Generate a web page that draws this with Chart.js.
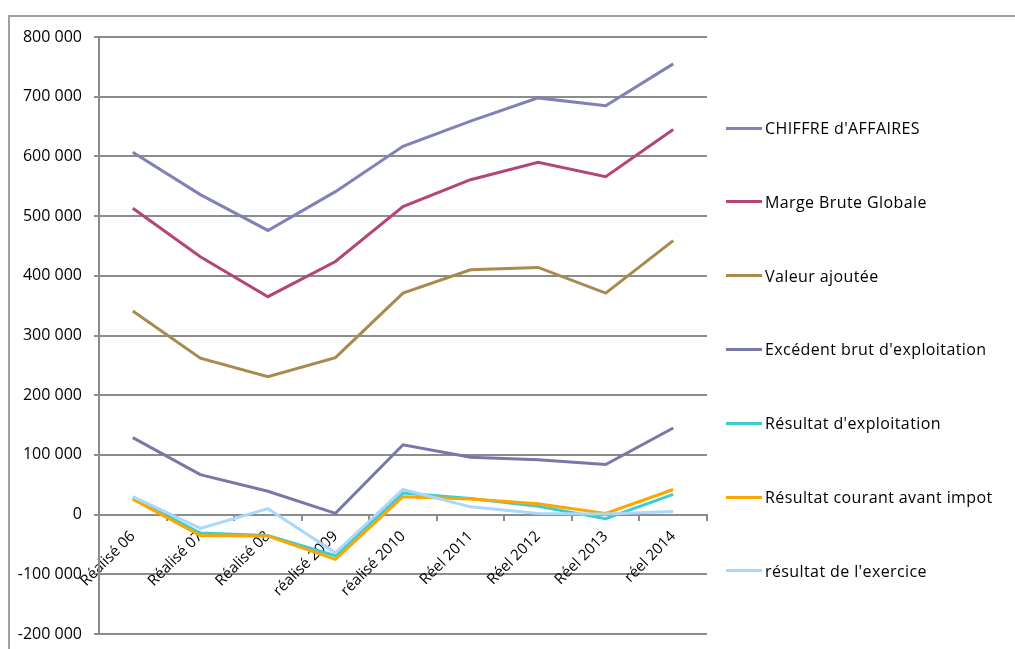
<!DOCTYPE html>
<html lang="fr">
<head>
<meta charset="utf-8">
<title>Évolution des soldes intermédiaires de gestion</title>
<script src="https://cdn.jsdelivr.net/npm/chart.js@4.4.1/dist/chart.umd.min.js"></script>
<style>
  html, body { margin: 0; padding: 0; background: #fff; overflow: hidden; }
  .wrap { position: relative; width: 1015px; height: 649px; }
  .frame { position: absolute; left: 8px; top: 15px; width: 1030px; height: 660px; border: 2px solid #a0a0a0; box-sizing: border-box; }
  canvas { position: absolute; left: 0; top: 0; }
  .legend { position: absolute; left: 726px; top: 0; font: 16px "Open Sans", sans-serif; letter-spacing: 0.4px; color: #000; }
  .legend__item { position: absolute; left: 0; display: flex; align-items: center; white-space: nowrap; transform: translateY(-50%); }
  .legend__line { width: 36px; height: 3px; margin-right: 3px; }
</style>
</head>
<body>
<div class="wrap">
  <div class="frame"></div>
  <canvas id="chart" width="1015" height="649"></canvas>
  <div class="legend" id="legend"></div>
</div>
<script>
const CATEGORIES = ["Réalisé 06", "Réalisé 07", "Réalisé 08", "réalisé 2009", "réalisé 2010", "Réel 2011", "Réel 2012", "Réel 2013", "réel 2014"];

const CHIFFRE_AFFAIRES = [607000, 536000, 476000, 541000, 617000, 659000, 698000, 685000, 755000];
const MARGE_BRUTE = [513000, 432000, 365000, 424000, 516000, 561000, 590000, 566000, 645000];
const VALEUR_AJOUTEE = [341000, 262000, 231000, 263000, 371000, 410000, 414000, 371000, 459000];
const EBE = [129000, 67000, 39000, 2000, 117000, 96000, 92000, 84000, 145000];
const RESULTAT_EXPLOITATION = [28000, -31000, -35000, -69000, 36000, 27000, 14000, -7000, 34000];
const RESULTAT_COURANT = [26000, -35000, -36000, -75000, 30000, 26000, 18000, 2000, 42000];
const RESULTAT_EXERCICE = [30000, -23000, 10000, -64000, 42000, 13000, 2000, 1000, 5000];

const SERIES = [
  ["CHIFFRE d'AFFAIRES", CHIFFRE_AFFAIRES, "#8081b8"],
  ["Marge Brute Globale", MARGE_BRUTE, "#b3457a"],
  ["Valeur ajoutée", VALEUR_AJOUTEE, "#a88a4e"],
  ["Excédent brut d'exploitation", EBE, "#7777a8"],
  ["Résultat d'exploitation", RESULTAT_EXPLOITATION, "#3fcccc"],
  ["Résultat courant avant impot", RESULTAT_COURANT, "#ffa500"],
  ["résultat de l'exercice", RESULTAT_EXERCICE, "#a9d8fb"],
];

const Y_MIN = -200000, Y_MAX = 800000, Y_STEP = 100000;

const GRID = "#8c8c8c";
const FONT = "'Open Sans', sans-serif";
const fmt = (v) => (v < 0 ? "-" : "") + Math.abs(v).toLocaleString("fr-FR").replace(/\s/g, " ");

new Chart(document.getElementById("chart"), {
  type: "line",
  data: {
    labels: CATEGORIES,
    datasets: SERIES.map(([label, data, color], i) => ({
      label, data, borderColor: color, backgroundColor: color,
      borderWidth: 3, pointRadius: 0, tension: 0, order: SERIES.length - i,
    })),
  },
  options: {
    responsive: false,
    animation: false,
    devicePixelRatio: 1,
    layout: { padding: { top: 37, bottom: 15, left: 0, right: 308 } },
    plugins: { legend: { display: false }, tooltip: { enabled: false } },
    scales: {
      x: {
        position: { y: 0 },
        offset: true,
        grid: { offset: true, drawOnChartArea: false, drawTicks: true, tickLength: 5, color: GRID, lineWidth: 2 },
        border: { display: true, color: GRID, width: 2 },
        ticks: { color: "#000", font: { family: FONT, size: 15 }, minRotation: 45, maxRotation: 45, padding: 8, autoSkip: false },
        afterFit: (s) => { s.height = 0; s.paddingTop = 0; s.paddingBottom = 0; },
      },
      y: {
        min: Y_MIN, max: Y_MAX,
        grid: { color: GRID, lineWidth: 2, tickLength: 5 },
        border: { display: true, color: GRID, width: 2 },
        ticks: { stepSize: Y_STEP, color: "#000", font: { family: FONT, size: 16 }, padding: 12, callback: fmt },
        afterFit: (s) => { s.width = 99; s.paddingBottom = 0; },
      },
    },
  },
});

// légende à droite, comme dans le classeur
const LEGEND_TOP = 128, LEGEND_STEP = 73.8;
document.getElementById("legend").innerHTML = SERIES
  .map(([label, , color], i) => `<div class="legend__item" style="top:${LEGEND_TOP + i * LEGEND_STEP}px">
    <span class="legend__line" style="background:${color}"></span><span>${label}</span></div>`)
  .join("");
</script>
</body>
</html>
